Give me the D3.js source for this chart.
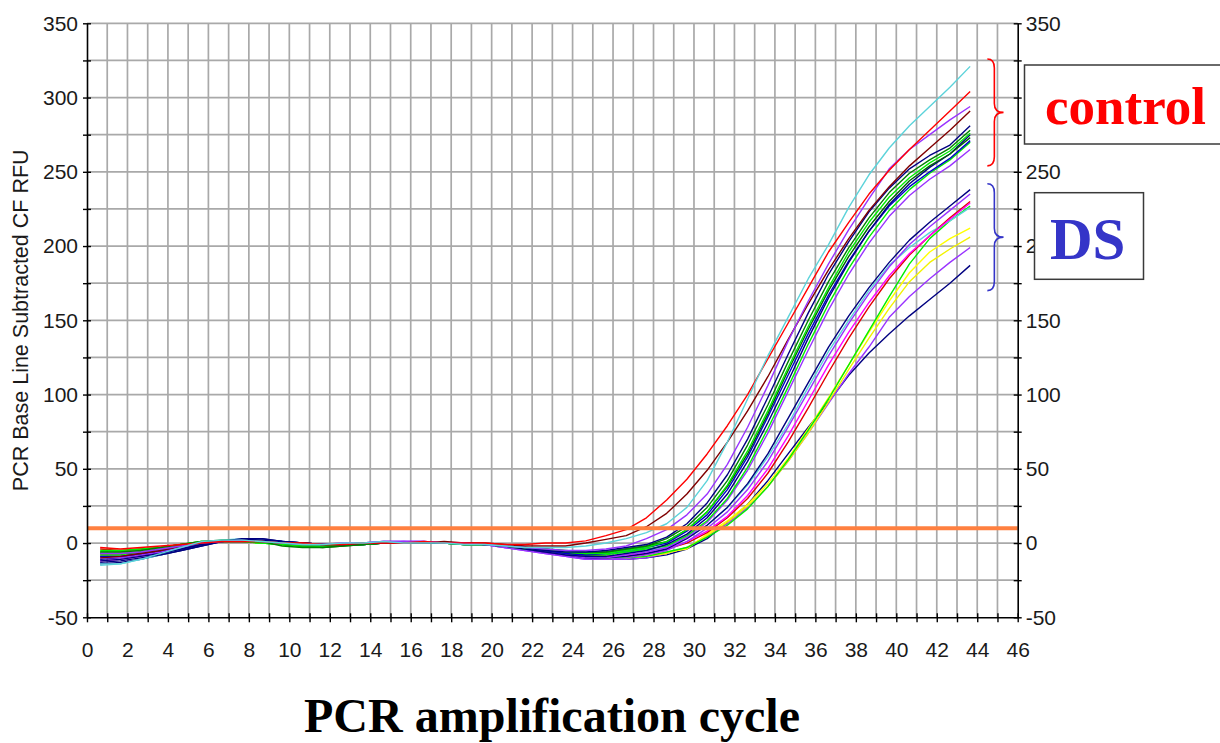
<!DOCTYPE html>
<html><head><meta charset="utf-8">
<script src="https://cdn.jsdelivr.net/npm/d3@7"></script>
<style>body{margin:0;background:#fff;} svg{display:block;}</style>
</head><body>
<svg id="chart" width="1220" height="743"></svg>
<script>
// ---------- data ----------
const cycles = [1,2,3,4,5,6,7,8,9,10,11,12,13,14,15,16,17,18,19,20,21,22,23,24,25,26,27,28,29,30,31,32,33,34,35,36,37,38,39,40,41,42,43,44];

const ctlCyan    = [-14,-14,-11,-7,-3,1,2,2,1,0, -1,-1,0,0,1,0,0,0,-1,-1, -2,-3,-3,-3,-2,0, 3,7,13,24,42,68,97,126,152,178,201,226,248,266,281,294,307,321];
const ctlRed     = [-3,-4,-3,-2,-1,0,1,1,1,0, 0,-1,-1,0,0,0,1,0,0,0, -1,-1,0,0,1.5,5, 9,17,29,43,60,79,100,124,148,172,196,216,235,251,265,278,291,304];
const ctlPurple  = [-7,-7,-6,-4,-2,0,1,2,1,0, -1,-1,0,0,1,1,1,0,0,-1, -2,-3,-4,-5,-5,-4, -2,3,9,19,33,53,78,106,136,163,188,211,232,252,265,275,285,294];
const ctlBrown   = [-10,-9,-7,-5,-2,0,1,1,1,0, 0,-1,-1,0,0,0,0,1,0,0, -1,-2,-2,-2,0,2.5, 5,11,20,33,49,68,89,112,137,161,184,205,224,240,254,266,278,291];
const ctlNavy    = [-12,-11,-9,-7,-4,-1,1,3,3,1, 0,-1,-1,0,0,0,0,0,0,-1, -2,-3,-5,-6,-6,-5, -3,-1, 4,13,27,46,70,98,127,155,181,203,223,239,252,261,268,281];
const ctlDkGreen = [-6,-6,-5,-3,-1,1,2,2,1,-2, -3,-3,-2,-1,0,0,0,0,0,-1, -2,-3,-4,-5,-6,-6, -4,-2, 3,11,24,42,66,93,122,150,176,199,219,236,249,258,266,278];
const ctlLime    = [-5,-5,-4,-3,-1,1,1,1,0,-1, -2,-2,-1,-1,0,0,0,0,-1,-1, -2,-3,-4,-6,-7,-7, -5,-3, 1,9,21,39,62,89,118,146,172,196,216,233,246,256,264,276];
const ctlNavy2   = [-13,-12,-10,-8,-5,-2,1,2,2,1, 0,-1,-1,-1,0,0,0,0,-1,-1, -2,-4,-6,-8,-9,-9, -7,-5, -1,6,17,33,55,81,109,138,165,189,210,228,242,253,262,275];
const ctlBlue    = [-9,-9,-7,-5,-2,0,1,2,1,0, -1,-1,-1,0,0,0,0,0,0,-1, -2,-3,-5,-7,-8,-7, -5,-3, 0,8,19,36,58,85,113,141,167,190,210,227,240,250,259,271];
const ctlLime2   = [-8,-8,-6,-4,-2,0,1,1,0,-1, -2,-2,-1,0,0,0,0,0,-1,-1, -2,-4,-5,-7,-8,-8, -6,-4, -2,5,15,30,51,77,105,134,161,185,206,224,238,249,258,270];
const ctlPurple2 = [-10,-10,-8,-6,-3,0,1,1,1,0, -1,-1,-1,0,1,1,0,0,0,-1, -3,-4,-6,-8,-10,-10, -8,-6, -3,4,14,29,49,74,102,130,157,181,202,220,234,245,254,265];
const ctlDkGreen2= [-7,-7,-6,-4,-2,0,1,2,1,-1, -2,-3,-2,-1,0,0,0,0,0,-1, -2,-3,-4,-6,-7,-6, -4,-2, 1,9,21,38,60,87,116,144,170,193,213,230,244,254,262,273];

const dsNavy     = [-11,-10,-8,-6,-4,-1,1,2,3,1, 0,-1,-1,-1,0,0,0,0,-1,-1, -2,-4,-6,-8,-10,-10, -9,-7,-4,3, 12,24,40,60,84,108,132,153,172,189,204,216,227,238];
const dsPurple   = [-9,-9,-7,-5,-3,0,1,1,1,0, -1,-1,-1,0,1,1,1,0,0,-1, -3,-5,-7,-9,-11,-11, -10,-8,-5,1, 10,21,36,55,78,102,126,148,168,186,201,213,224,235];
const dsMagenta  = [-12,-11,-9,-6,-3,0,1,1,1,0, -1,-1,0,0,0,0,0,0,0,-1, -2,-4,-6,-8,-9,-9, -8,-7,-4,1, 8,18,32,50,72,96,120,142,162,180,195,207,218,229];
const dsRed      = [-4,-5,-4,-3,-1,0,1,1,1,0, 0,-1,-1,0,0,0,0,0,0,-1, -2,-3,-5,-7,-8,-9, -9,-7,-4,0, 7,17,30,47,68,91,115,138,159,178,194,207,219,230];
const dsCyan     = [-15,-14,-11,-8,-4,0,2,3,2,1, 0,-1,-1,0,0,0,0,0,-1,-1, -2,-3,-5,-6,-7,-7, -6,-5,-3,4, 12,24,39,58,80,105,129,150,170,187,199,209,217,226];
const dsLime     = [-6,-6,-5,-3,-1,1,1,1,0,-1, -2,-2,-1,-1,0,0,0,0,-1,-1, -2,-4,-6,-8,-9,-10, -10,-9,-6,-3, 4,12,23,38,56,76,97,120,143,166,188,205,217,227];
const dsYellow   = [-8,-8,-6,-4,-2,0,1,1,1,0, -1,-1,-1,0,0,0,0,0,-1,-1, -2,-4,-6,-7,-8,-9, -9,-8,-6,-4, 6,15,26,40,57,77,98,120,142,163,182,196,205,212];
const dsYellow2  = [-7,-7,-6,-4,-2,0,1,1,0,0, -1,-1,0,0,0,0,0,0,-1,-1, -2,-4,-6,-8,-9,-10, -10,-9,-7,-3, 5,14,25,38,55,74,95,117,138,158,176,189,198,206];
const dsPurple2  = [-10,-9,-8,-6,-3,-1,1,1,1,0, -1,-1,-1,0,0,1,1,0,0,-1, -3,-5,-7,-9,-11,-11, -11,-10,-7,-3, 5,13,24,38,55,74,94,114,132,152,166,178,189,199];
const dsNavy2    = [-14,-13,-11,-8,-5,-2,1,2,2,1, 0,-1,-1,-1,0,0,0,0,-1,-1, -2,-4,-6,-8,-10,-11, -11,-10,-8,-4, 3,14,26,42,60,78,95,113,128,141,153,164,175,187];

const threshold = 10;
const xTickValues = [0,1,2,3,4,5,6,7,8,9,10,11,12,13,14,15,16,17,18,19,20,21,22,23,24,25,26,27,28,29,30,31,32,33,34,35,36,37,38,39,40,41,42,43,44,45,46];
const yTickValues = [-50,-25,0,25,50,75,100,125,150,175,200,225,250,275,300,325,350];
const rightHiddenLabels = [300];   // covered by the "control" box in the original
const yAxisTitle = "PCR Base Line Subtracted CF RFU";
const xAxisTitle = "PCR amplification cycle";
const groupLabels = ["control", "DS"];
const groupRanges = [[326, 254], [242, 170]];

// series (drawing order) and their colours
const seriesList = [dsNavy2, dsPurple2, dsYellow2, dsYellow, dsLime, dsCyan, dsRed, dsMagenta, dsPurple, dsNavy,
  ctlPurple2, ctlLime2, ctlBlue, ctlNavy2, ctlDkGreen2, ctlLime, ctlDkGreen, ctlNavy, ctlBrown, ctlPurple, ctlRed, ctlCyan];
const seriesColors = ["#000080","#9933ff","#f2f200","#ffff00","#00ee00","#5cd3da","#e00000","#ff00ff","#9933ff","#000080",
  "#9933ff","#00ee00","#0000cc","#000080","#006400","#00ee00","#008000","#000080","#800000","#9933ff","#ff0000","#5cd3da"];

// ---------- drawing ----------
const svg = d3.select("#chart");
const x = d3.scaleLinear().domain([0, 46]).range([87, 1017.7]);
const y = d3.scaleLinear().domain([-50, 350]).range([617.3, 23.3]);
const plotShift = -0.35;   // instrument plots cycle n slightly left of the gridline
const tickFont = "'Liberation Sans', Arial, sans-serif";

svg.append("rect").attr("width", 1220).attr("height", 743).attr("fill", "#fff");

// grid
const grid = svg.append("g").attr("stroke", "#a9a9a9").attr("stroke-width", 1.7);
grid.selectAll("line.v").data(xTickValues.filter(d => d > 0 && d < 46)).join("line")
  .attr("x1", d => x(d)).attr("x2", d => x(d)).attr("y1", y(350)).attr("y2", y(-50));
grid.selectAll("line.h").data(yTickValues.filter(d => d > -50)).join("line")
  .attr("x1", x(0)).attr("x2", x(46)).attr("y1", d => y(d)).attr("y2", d => y(d));

// curves
const line = d3.line().x((d, i) => x(cycles[i] + plotShift)).y(d => y(d));
svg.append("g").attr("fill", "none").attr("stroke-width", 1.4).attr("stroke-linejoin", "round")
  .selectAll("path").data(seriesList).join("path")
  .attr("stroke", (d, i) => seriesColors[i])
  .attr("d", d => line(d));

// threshold
svg.append("line").attr("x1", x(0)).attr("x2", x(46)).attr("y1", y(threshold)).attr("y2", y(threshold))
  .attr("stroke", "#ff8040").attr("stroke-width", 4);

function styleAxis(g) {
  g.select(".domain").attr("stroke", "#000").attr("stroke-width", 1.6);
  g.selectAll(".tick line").attr("stroke", "#000").attr("stroke-width", 1.4);
  g.selectAll("text").attr("font-family", tickFont).attr("font-size", 21).attr("fill", "#1a1a1a");
}
const yFmt = d => (d % 50 === 0 ? d : "");

const gl = svg.append("g").attr("transform", `translate(${x(0)},0)`)
  .call(d3.axisLeft(y).tickValues(yTickValues).tickFormat(yFmt).tickSizeInner(4).tickSizeOuter(0).tickPadding(5));
gl.selectAll(".tick line").attr("x1", 4);
styleAxis(gl);

const gr = svg.append("g").attr("transform", `translate(${x(46)},0)`)
  .call(d3.axisRight(y).tickValues(yTickValues)
    .tickFormat(d => (rightHiddenLabels.includes(d) ? "" : yFmt(d)))
    .tickSizeInner(4).tickSizeOuter(0).tickPadding(4));
gr.selectAll(".tick line").attr("x1", -4);
styleAxis(gr);

const gb = svg.append("g").attr("transform", `translate(0,${y(-50)})`)
  .call(d3.axisBottom(x).tickValues(xTickValues).tickFormat(d => (d % 2 === 0 ? d : "")).tickSizeInner(5).tickSizeOuter(0).tickPadding(20));
gb.selectAll(".tick line").attr("y1", -4);
styleAxis(gb);

// axis titles
svg.append("text").attr("transform", `translate(28,${(y(-50) + y(350)) / 2}) rotate(-90)`)
  .attr("text-anchor", "middle").attr("font-family", tickFont).attr("font-size", 21.5).attr("fill", "#1a1a1a")
  .text(yAxisTitle);
svg.append("text").attr("x", 552).attr("y", 732).attr("text-anchor", "middle")
  .attr("font-family", "'Liberation Serif', 'Times New Roman', serif").attr("font-weight", "bold")
  .attr("font-size", 48).attr("fill", "#000").text(xAxisTitle);

// braces
function bracePath(xa, xt, y0, y1) {
  const xm = xa + 7, ym = (y0 + y1) / 2, r = 9;
  return `M${xa},${y0} Q${xm},${y0} ${xm},${y0 + r} L${xm},${ym - r} Q${xm},${ym} ${xt},${ym} ` +
         `Q${xm},${ym} ${xm},${ym + r} L${xm},${y1 - r} Q${xm},${y1} ${xa},${y1}`;
}
const braceColors = ["#ff0000", "#3535c8"];
groupRanges.forEach((r, i) => {
  svg.append("path").attr("d", bracePath(x(44.5), x(45.3), y(r[0]), y(r[1])))
    .attr("fill", "none").attr("stroke", braceColors[i]).attr("stroke-width", 1.6);
});

// label boxes
svg.append("rect").attr("x", 1024.5).attr("y", 65).attr("width", 215).attr("height", 79)
  .attr("fill", "#fff").attr("stroke", "#3a3a3a").attr("stroke-width", 1.5);
svg.append("text").attr("x", 1045).attr("y", 124).attr("font-family", "'Liberation Serif', 'Times New Roman', serif")
  .attr("font-weight", "bold").attr("font-size", 53).attr("fill", "#ff0000").text(groupLabels[0]);
svg.append("rect").attr("x", 1034.5).attr("y", 192.7).attr("width", 109).attr("height", 86.6)
  .attr("fill", "#fff").attr("stroke", "#3a3a3a").attr("stroke-width", 1.5);
svg.append("text").attr("x", 1050).attr("y", 258.5).attr("font-family", "'Liberation Serif', 'Times New Roman', serif")
  .attr("font-weight", "bold").attr("font-size", 59).attr("fill", "#3535c8").text(groupLabels[1]);
</script>
</body></html>
